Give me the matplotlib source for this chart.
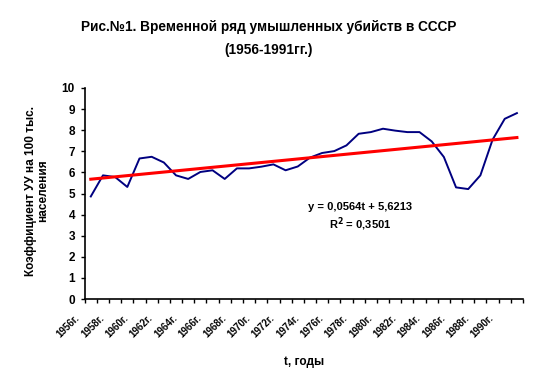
import numpy as np
import matplotlib
matplotlib.use('Agg')
import matplotlib.pyplot as plt
from matplotlib.transforms import ScaledTranslation

# Data
years = list(range(1956, 1992))
rate = [4.86, 5.86, 5.78, 5.31, 6.66, 6.74, 6.47, 5.86, 5.69, 6.02,
        6.10, 5.69, 6.19, 6.19, 6.27, 6.38, 6.10, 6.28, 6.70, 6.92,
        7.01, 7.28, 7.83, 7.91, 8.07, 7.98, 7.91, 7.91, 7.47, 6.73,
        5.29, 5.21, 5.86, 7.55, 8.54, 8.81]
trend_slope = 0.0564
trend_icept = 5.6213
r2 = 0.3501
tick_years = years[::2]
tick_labels = [f'{y}г.' for y in tick_years]

plt.rcParams['font.family'] = ['Liberation Sans', 'DejaVu Sans']
plt.rcParams['font.weight'] = 'bold'

fig = plt.figure(figsize=(5.38, 3.89), dpi=100)
W, H = 538, 389
ax = fig.add_axes([84.7 / W, (H - 299) / H, (523 - 84.7) / W, (299 - 88) / H])

n = len(years)
x = np.arange(n) + 0.5
ax.plot(x, rate, color='#000080', lw=1.4)

t = np.arange(1, n + 1)
trend = trend_slope * t + trend_icept
ax.plot([x[0], x[-1]], [trend[0], trend[-1]], color='#FF0000', lw=2.2)

ax.set_xlim(0, n)
ax.set_ylim(0, 10)
ax.set_yticks(range(0, 11))
ax.tick_params(axis='y', direction='out', length=3, width=1, pad=4, labelsize=8.5)

# ticks on category boundaries, labels at category centres
ax.set_xticks(np.arange(0, n + 1))
ax.set_xticklabels([])
ax.set_xticks([years.index(y) + 0.5 for y in tick_years], minor=True)
ax.set_xticklabels(tick_labels, minor=True, rotation=45, ha='right', va='top',
                   fontsize=7)
ax.tick_params(axis='x', which='major', direction='out', length=3, width=1)
ax.tick_params(axis='x', which='minor', length=0, pad=10)
off = ScaledTranslation(-9 / 100, 0, fig.dpi_scale_trans)
for lab in ax.get_xticklabels(minor=True):
    lab.set_transform(lab.get_transform() + off)

for s in ['top', 'right']:
    ax.spines[s].set_visible(False)
for s in ['left', 'bottom']:
    ax.spines[s].set_linewidth(1.2)

fig.text(0.5, 1 - 27 / H, 'Рис.№1. Временной ряд умышленных убийств в СССР',
         ha='center', va='center', fontsize=9.8, fontweight='bold')
fig.text(0.5, 1 - 50 / H, '(1956-1991гг.)',
         ha='center', va='center', fontsize=9.8, fontweight='bold')

fig.text(304 / W, 1 - 362 / H, 't, годы', ha='center', va='center',
         fontsize=8.5, fontweight='bold')
fig.text(37 / W, 1 - 191 / H, 'Коэффициент УУ на 100 тыс.\nнаселения',
         ha='center', va='center', rotation=90, fontsize=8.5,
         fontweight='bold', linespacing=1.1)

fig.text(360 / W, 1 - 207 / H, f'y = {trend_slope:.4f}t + {trend_icept:.4f}'.replace('.', ','),
         ha='center', va='center', fontsize=8, fontweight='bold')
fig.text(360 / W, 1 - 224 / H, f'R$^2$ = {r2:.4f}'.replace('.', ','),
         ha='center', va='center', fontsize=8, fontweight='bold')

fig.savefig('out.png', dpi=100)
